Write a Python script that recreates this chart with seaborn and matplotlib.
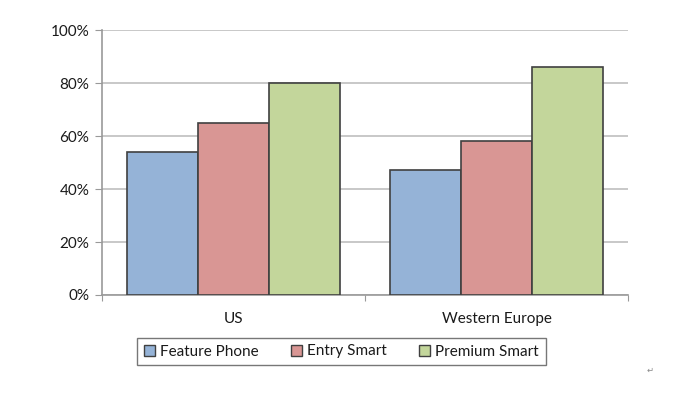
import pandas as pd
import numpy as np
import seaborn as sns
import matplotlib.pyplot as plt
from matplotlib.ticker import PercentFormatter

# Data
regions = ['US', 'Western Europe']
segments = ['Feature Phone', 'Entry Smart', 'Premium Smart']
feature_phone = [54, 47]
entry_smart = [65, 58]
premium_smart = [80, 86]
colors = ['#95B3D7', '#D99694', '#C3D69B']

df = pd.DataFrame({
    'region': regions * 3,
    'segment': [s for s in segments for _ in regions],
    'share': feature_phone + entry_smart + premium_smart,
})

sns.set_style('white')
plt.rcParams['font.family'] = ['Lato', 'DejaVu Sans']

fig = plt.figure(figsize=(7, 4.16), dpi=100)
ax = fig.add_axes([102 / 700, 1 - 295 / 416, 526 / 700, 265 / 416])

sns.barplot(data=df, x='region', y='share', hue='segment', hue_order=segments,
            palette=colors, width=0.81, edgecolor='#404040', linewidth=1.2,
            saturation=1, ax=ax, zorder=3)

ax.set_ylim(0, 100)
ax.set_xlim(-0.5, 1.5)
ax.set_yticks(np.arange(0, 101, 20))
ax.yaxis.set_major_formatter(PercentFormatter(decimals=0))
ax.yaxis.grid(True, color='#BFBFBF', linewidth=1.2, zorder=0)
ax.set_axisbelow(True)
ax.set_xlabel('')
ax.set_ylabel('')

# Excel style ticks at category boundaries
ax.set_xticks([-0.5, 0.5, 1.5], minor=False)
ax.set_xticklabels([])
ax.set_xticks([0, 1], minor=True)
ax.set_xticklabels(regions, minor=True)
ax.tick_params(axis='x', which='major', length=4, color='#999999', direction='out', bottom=True)
ax.tick_params(axis='x', which='minor', length=0, pad=12, labelsize=11, labelcolor='#1a1a1a')
ax.tick_params(axis='y', length=5, color='#999999', direction='out', left=True,
               labelsize=11, labelcolor='#1a1a1a', pad=4)

for side in ['top', 'right']:
    ax.spines[side].set_visible(False)
for side in ['left', 'bottom']:
    ax.spines[side].set_color('#999999')
    ax.spines[side].set_linewidth(1.2)

ax.get_legend().remove()
handles = [plt.Rectangle((0, 0), 1, 1, facecolor=c, edgecolor='#404040', linewidth=1) for c in colors]
leg = fig.legend(handles, segments, loc='center', bbox_to_anchor=(341.5 / 700, 1 - 351.5 / 416),
                 ncol=3, frameon=True, fancybox=False, edgecolor='#555555', fontsize=11,
                 handlelength=0.7, handleheight=0.7, handletextpad=0.35, columnspacing=2.1,
                 borderpad=0.45, borderaxespad=0, labelcolor='#1a1a1a')
leg.get_frame().set_linewidth(1.0)

fig.text(650 / 700, 1 - 370 / 416, '\u21b5', fontsize=6, color='#888888',
         family=['DejaVu Sans'], ha='center', va='center')

fig.savefig('out.png', dpi=100)
